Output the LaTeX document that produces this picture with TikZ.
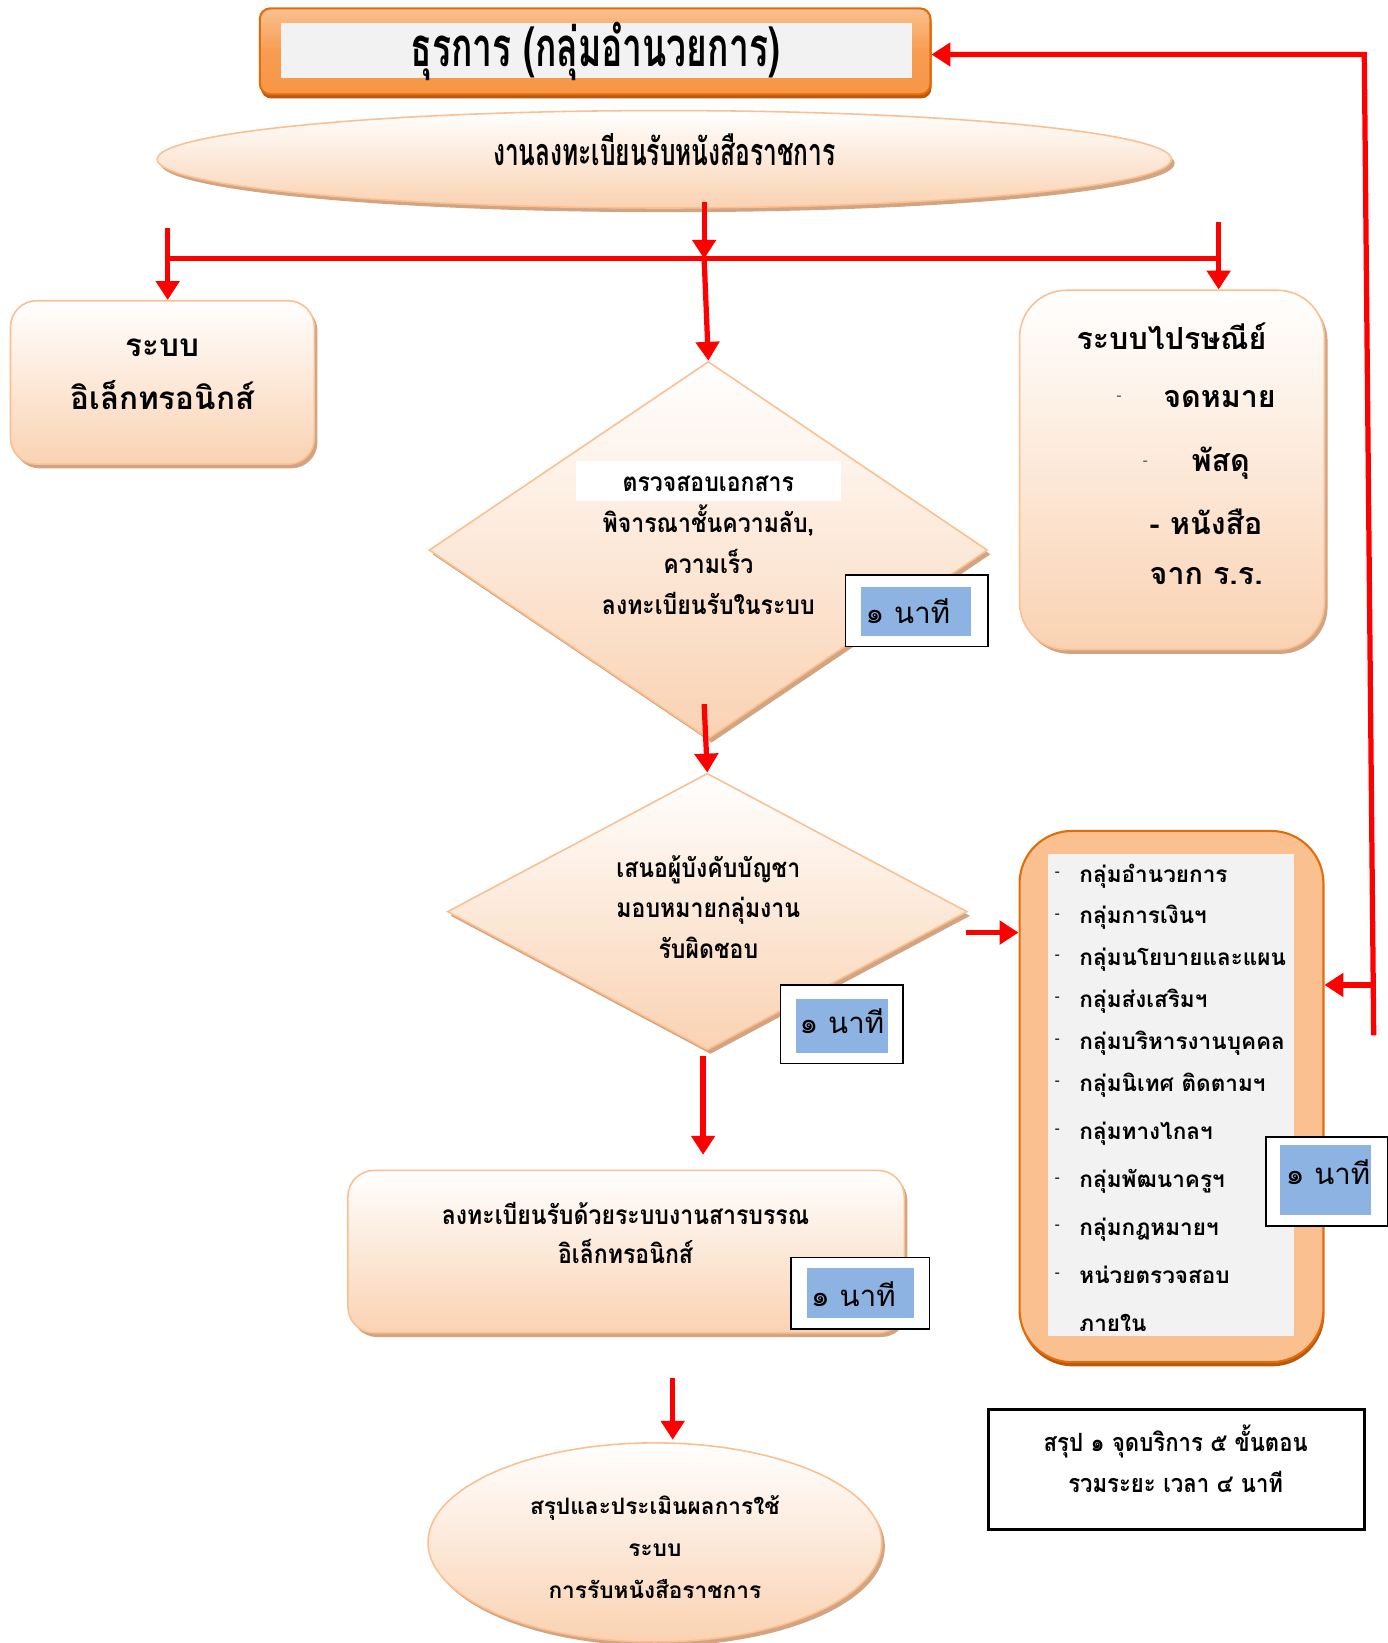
\documentclass[tikz,border=0pt]{standalone}
\usepackage{fontspec}
\usetikzlibrary{shapes.geometric,arrows.meta,shadows}
\newfontfamily\thai[Script=Thai]{Loma}
\newfontfamily\thaicond[Script=Thai,FakeStretch=0.65]{Loma}
\newfontfamily\thaisemi[Script=Thai,FakeStretch=0.88]{Loma}

\definecolor{flowred}{HTML}{FF0000}
\definecolor{peachtop}{HTML}{FFFFFF}
\definecolor{peachbot}{HTML}{FAD2B2}
\definecolor{peachline}{HTML}{FAC090}
\definecolor{peachshadow}{HTML}{D2A482}
\definecolor{darkorange}{HTML}{E36C09}
\definecolor{midorange}{HTML}{F79646}
\definecolor{lightorange}{HTML}{FAC08F}
\definecolor{rimshadow}{HTML}{B85A10}
\definecolor{paneltint}{HTML}{F2F2F2}
\definecolor{minuteblue}{HTML}{8DB3E2}

\tikzset{
  peach/.style={draw=peachline, line width=1.5pt, top color=peachtop, bottom color=peachbot,
    drop shadow={shadow xshift=3pt, shadow yshift=-4pt, fill=peachshadow, opacity=1}},
  orangebox/.style={rectangle, draw=darkorange, line width=2pt, top color=lightorange,
    bottom color=midorange, middle color=midorange!85!lightorange,
    drop shadow={shadow xshift=1pt, shadow yshift=-4pt, fill=rimshadow, opacity=1}},
  panel/.style={rectangle, fill=paneltint, inner sep=0},
  redarrow/.style={draw=flowred, line width=5pt, -{Triangle[width=22pt,length=18pt]}},
  redline/.style={draw=flowred, line width=5pt},
  % text lines are placed by their visual middle; the baseline sits below it
  line/.style={inner sep=0, anchor=base, yshift={-0.36*#1pt}},
  wide/.style={line=#1, font=\thai\bfseries\fontsize{#1}{#1}\selectfont},
  semi/.style={line=#1, font=\thaisemi\bfseries\fontsize{#1}{#1}\selectfont},
  narrow/.style={line=#1, font=\thaicond\bfseries\fontsize{#1}{#1}\selectfont},
  minuteframe/.style={rectangle, draw=black, line width=1.6pt, fill=white, inner sep=0},
  minutefill/.style={rectangle, fill=minuteblue, inner sep=0},
  minutetext/.style={line=28, anchor=base west, font=\thai\fontsize{28}{28}\selectfont},
  smalldash/.style={inner sep=0, font=\thai\fontsize{14}{14}\selectfont},
}

\begin{document}
\begin{tikzpicture}[x=1pt, y=-1pt]
\useasboundingbox[fill=white] (0,0) rectangle (1324,1568);

% ---- header box ----
\node[orangebox, rounded corners=10pt, minimum width=640pt, minimum height=82pt] (title) at (568,49) {};
\node[panel, minimum width=602pt, minimum height=52pt] (titlepanel) at (569,48) {};
\node[narrow=52] (titletext) at (568,45) {ธุรการ (กลุ่มอำนวยการ)};

% ---- intake oval ----
\node[peach, ellipse, minimum width=968pt, minimum height=93pt, inner sep=0] (intake) at (634,152) {};
\node[narrow=36] (intaketext) at (634,145) {งานลงทะเบียนรับหนังสือราชการ};

% ---- electronic channel ----
\node[peach, rectangle, rounded corners=25pt, minimum width=290pt, minimum height=156pt] (lbox) at (155,365) {};
\node[wide=30] (lbox1) at (155,329) {ระบบ};
\node[wide=30] (lbox2) at (155,380) {อิเล็กทรอนิกส์};

% ---- postal channel ----
\node[peach, rectangle, rounded corners=45pt, minimum width=291pt, minimum height=343pt] (rbox) at (1118.5,448.5) {};
\node[wide=29] (rbox1) at (1118,323) {ระบบไปรษณีย์};
\node[smalldash, text=black!70] (rdash1) at (1068,380) {-};
\node[wide=29, anchor=base west] (rbox2) at (1110,378) {จดหมาย};
\node[smalldash, text=black!70] (rdash2) at (1093,442) {-};
\node[wide=29, anchor=base west] (rbox3) at (1137,440) {พัสดุ};
\node[wide=29, anchor=base west] (rbox4) at (1097,500) {- หนังสือ};
\node[wide=29, anchor=base west] (rbox5) at (1097,547) {จาก ร.ร.};

% ---- checking step ----
\node[peach, diamond, minimum width=533pt, minimum height=360pt, inner sep=0] (check) at (676,525) {};
\node[rectangle, fill=white, minimum width=253pt, minimum height=38pt, inner sep=0] (checkstrip) at (676.5,459) {};
\foreach \t [count=\i] in {ตรวจสอบเอกสาร, {พิจารณาชั้นความลับ,}, ความเร็ว, ลงทะเบียนรับในระบบ}
  \node[semi=25] (check\i) at (676,{460+39.3*(\i-1)}) {\t};

\node[minuteframe, minimum width=136pt, minimum height=68pt] (t1frame) at (875,583) {};
\node[minutefill, minimum width=105pt, minimum height=47pt] (t1) at (874.5,583.5) {};
\node[minutetext] (t1text) at (826,585) {๑ นาที};

% ---- assignment step ----
\node[peach, diamond, minimum width=496pt, minimum height=264pt, inner sep=0] (assign) at (675,870) {};
\foreach \t [count=\i] in {เสนอผู้บังคับบัญชา, มอบหมายกลุ่มงาน, รับผิดชอบ}
  \node[semi=25] (assign\i) at (676,{828+39*(\i-1)}) {\t};

\node[minuteframe, minimum width=117pt, minimum height=75pt] (t2frame) at (803.5,977.5) {};
\node[minutefill, minimum width=87pt, minimum height=52pt] (t2) at (803.5,979) {};
\node[minutetext] (t2text) at (763,976) {๑ นาที};

% ---- registration step ----
\node[peach, rectangle, rounded corners=25pt, minimum width=531pt, minimum height=155pt] (reg) at (597.5,1194.5) {};
\node[semi=25] (reg1) at (597,1160) {ลงทะเบียนรับด้วยระบบงานสารบรรณ};
\node[semi=25] (reg2) at (597,1197) {อิเล็กทรอนิกส์};

\node[minuteframe, minimum width=132pt, minimum height=68pt] (t3frame) at (821,1234) {};
\node[minutefill, minimum width=102pt, minimum height=48pt] (t3) at (821,1234) {};
\node[minutetext] (t3text) at (774,1237) {๑ นาที};

% ---- evaluation oval ----
\node[peach, ellipse, minimum width=433pt, minimum height=190pt, inner sep=0] (evalo) at (625,1472) {};
\foreach \t [count=\i] in {สรุปและประเมินผลการใช้, ระบบ, การรับหนังสือราชการ}
  \node[wide=21.6] (evalo\i) at (625,{1438+40*(\i-1)}) {\t};

% ---- receiving groups ----
\node[orangebox, rounded corners=50pt, minimum width=290pt, minimum height=507pt,
      top color=lightorange, middle color=midorange, bottom color=lightorange] (groups) at (1118,1046.5) {};
\node[panel, minimum width=235pt, minimum height=460pt] (groupspanel) at (1117.5,1045) {};
\foreach \t/\y in {กลุ่มอำนวยการ/834, กลุ่มการเงินฯ/874, กลุ่มนโยบายและแผน/914, กลุ่มส่งเสริมฯ/954,
    กลุ่มบริหารงานบุคคล/994, กลุ่มนิเทศ ติดตามฯ/1034, กลุ่มทางไกลฯ/1080, กลุ่มพัฒนาครูฯ/1126,
    กลุ่มกฎหมายฯ/1171, หน่วยตรวจสอบ/1217} {
  \node[smalldash] (gd\y) at (1009,\y) {-};
  \node[wide=21.5, anchor=base west] (g\y) at (1030,\y) {\t};
}
\node[wide=21.5, anchor=base west] (g1263) at (1030,1263) {ภายใน};

\node[minuteframe, minimum width=116pt, minimum height=85pt] (t4frame) at (1266,1127.5) {};
\node[minutefill, minimum width=86pt, minimum height=67pt] (t4) at (1265,1126.5) {};
\node[minutetext] (t4text) at (1227,1120) {๑ นาที};

% ---- summary ----
\node[rectangle, draw=black, line width=3pt, fill=white, minimum width=359pt, minimum height=115pt] (summary) at (1122.5,1402.5) {};
\node[semi=24] (sum1) at (1122,1377) {สรุป ๑ จุดบริการ ๕ ขั้นตอน};
\node[semi=24] (sum2) at (1122,1416) {รวมระยะ เวลา ๔ นาที};

% ---- connectors ----
\coordinate (busL) at (160,247);
\coordinate (busR) at (1163,247);
\coordinate (tickL) at (160,218);
\coordinate (tickR) at (1163,212);
\coordinate (intakefoot) at (672,193);
\draw[redline] (busL) -- (busR);
\draw[redarrow] (tickL) -- (tickL |- lbox.north);
\draw[redarrow] (tickR) -- (tickR |- rbox.north);
\draw[redarrow] (intakefoot) -- (intakefoot |- busL);
\draw[redarrow] (intakefoot |- busL) -- (check.north);

\coordinate (checkfoot) at (672,672);
\draw[redarrow] (checkfoot) -- (assign.north);

\coordinate (assignside) at (922,890);
\draw[redarrow] (assignside) -- (assignside -| groups.west);

\coordinate (assignfoot) at (671,1008);
\coordinate (regtop) at (671,1102);
\draw[redarrow] (assignfoot) -- (regtop);

\coordinate (regfoot) at (642,1315);
\coordinate (evaltop) at (642,1374);
\draw[redarrow] (regfoot) -- (evaltop);

\coordinate (loopfoot) at (1311,988);
\coordinate (loopcorner) at (1302,52);
\coordinate (loopbranch) at (1310,940);
\draw[redarrow] (loopfoot) -- (loopcorner) -- (loopcorner -| title.east);
\draw[redarrow] (loopbranch) -- (loopbranch -| groups.east);
\end{tikzpicture}
\end{document}
